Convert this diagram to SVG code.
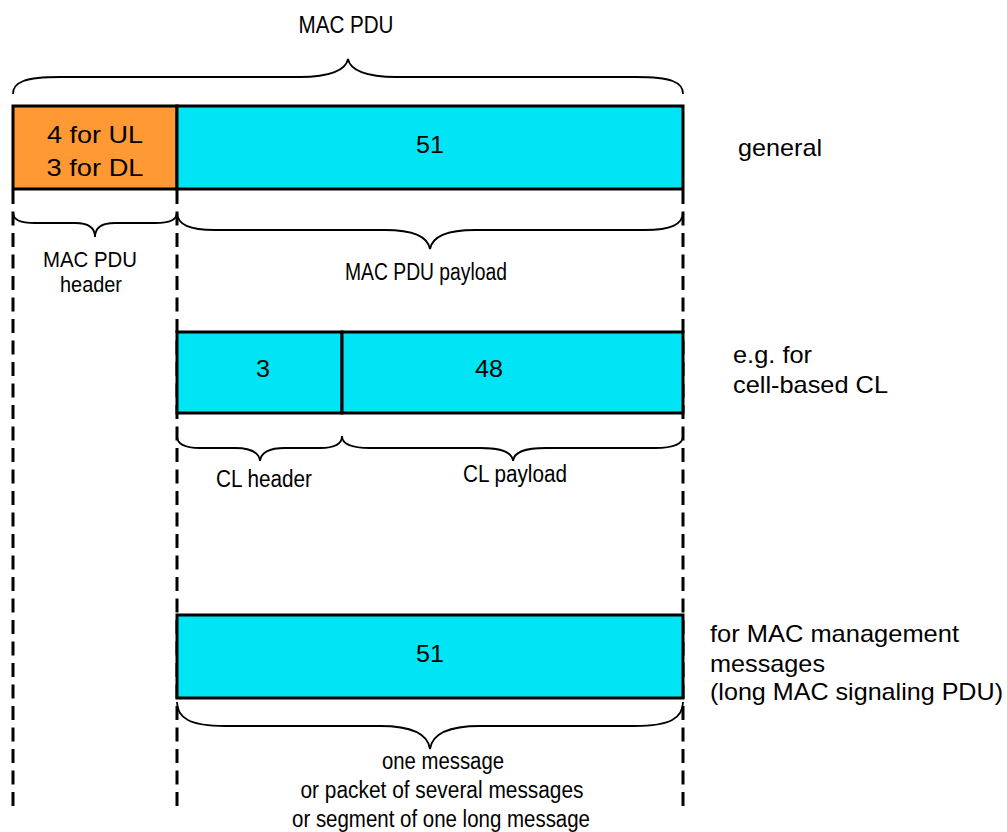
<svg xmlns="http://www.w3.org/2000/svg" width="1007" height="832" viewBox="0 0 1007 832">
<style>
.bg{fill:#ffffff}
.box{stroke:#000;stroke-width:3}
.hdr{fill:#FF9933}
.pl{fill:#00E5F5}
.dash{stroke:#000;stroke-width:3;stroke-dasharray:14 7.5;fill:none}
.brace{stroke:#000;stroke-width:1.8;fill:none}
.t{font-family:"Liberation Sans",Arial,sans-serif;font-size:24px;fill:#000}
.n{font-family:"Liberation Sans",Arial,sans-serif;font-size:23px;fill:#000}
.m{text-anchor:middle}
</style>
<rect class="bg" x="0" y="0" width="1007" height="832"/>
<g id="connectors">
<line class="dash" x1="13" y1="190" x2="13" y2="812"/>
<line class="dash" x1="177" y1="190" x2="177" y2="812"/>
<line class="dash" x1="683" y1="190" x2="683" y2="810"/>
<path id="brace-mac-pdu" class="brace" d="M13,94 C13,82 25,77 60,77 L300,77 C330,77 346,70 348,59 C350,70 366,77 396,77 L636,77 C671,77 683,82 683,94"/>
<path id="brace-header" class="brace" d="M13,212 C13,220 20,223 35,223 L75,223 C88,223 95,228 95,237 C95,228 102,223 115,223 L155,223 C170,223 177,220 177,212"/>
<path id="brace-payload" class="brace" d="M177,212 C177,225 190,230 215,230 L385,230 C415,230 428,238 430,249 C432,238 445,230 475,230 L645,230 C670,230 683,225 683,212"/>
<path id="brace-cl-header" class="brace" d="M177,436 C177,444 185,448 200,448 L235,448 C250,448 259,452 260,461 C261,452 270,448 285,448 L320,448 C335,448 342,444 342,436"/>
<path id="brace-cl-payload" class="brace" d="M342,436 C342,444 350,448 370,448 L480,448 C502,448 512,452 513,461 C514,452 524,448 546,448 L655,448 C675,448 683,444 683,436"/>
<path id="brace-message" class="brace" d="M177,702 C177,718 190,726 225,726 L380,726 C415,726 428,735 430,749 C432,735 445,726 480,726 L635,726 C670,726 683,718 683,702"/>
</g>
<g id="label-mac-pdu"><text class="n m" x="346" y="33" textLength="95" lengthAdjust="spacingAndGlyphs" style="font-size:24px">MAC PDU</text></g>
<g id="node-header">
<rect class="box hdr" x="13" y="106" width="164" height="83"/>
<text class="t m" x="95" y="143" textLength="96" lengthAdjust="spacingAndGlyphs">4 for UL</text>
<text class="t m" x="95" y="176" textLength="97" lengthAdjust="spacingAndGlyphs">3 for DL</text>
</g>
<g id="node-payload">
<rect class="box pl" x="177" y="106" width="506" height="83"/>
<text class="t m" x="430" y="153" textLength="28" lengthAdjust="spacingAndGlyphs">51</text>
</g>
<g id="label-general"><text class="t" x="738" y="156" textLength="84" lengthAdjust="spacingAndGlyphs">general</text></g>
<g id="label-header">
<text class="n m" x="90" y="267" textLength="94" lengthAdjust="spacingAndGlyphs" style="font-size:22px">MAC PDU</text>
<text class="n m" x="91" y="292" textLength="62" lengthAdjust="spacingAndGlyphs" style="font-size:22px">header</text>
</g>
<g id="label-payload"><text class="n m" x="426" y="280" textLength="162" lengthAdjust="spacingAndGlyphs">MAC PDU payload</text></g>
<g id="node-cl-header">
<rect class="box pl" x="177" y="332" width="165" height="81"/>
<text class="t m" x="263" y="377" textLength="14" lengthAdjust="spacingAndGlyphs">3</text>
</g>
<g id="node-cl-payload">
<rect class="box pl" x="342" y="332" width="341" height="81"/>
<text class="t m" x="489" y="377" textLength="28" lengthAdjust="spacingAndGlyphs">48</text>
</g>
<g id="label-cl">
<text class="t" x="733" y="363" textLength="79" lengthAdjust="spacingAndGlyphs">e.g. for</text>
<text class="t" x="733" y="393" textLength="155" lengthAdjust="spacingAndGlyphs">cell-based CL</text>
</g>
<g id="label-cl-header"><text class="n m" x="264" y="487" textLength="96" lengthAdjust="spacingAndGlyphs">CL header</text></g>
<g id="label-cl-payload"><text class="n m" x="515" y="482" textLength="104" lengthAdjust="spacingAndGlyphs">CL payload</text></g>
<g id="node-mgmt">
<rect class="box pl" x="177" y="615" width="506" height="83"/>
<text class="t m" x="430" y="662" textLength="28" lengthAdjust="spacingAndGlyphs">51</text>
</g>
<g id="label-mgmt">
<text class="t" x="710" y="642" textLength="249" lengthAdjust="spacingAndGlyphs">for MAC management</text>
<text class="t" x="710" y="672" textLength="115" lengthAdjust="spacingAndGlyphs">messages</text>
<text class="t" x="710" y="700" textLength="293" lengthAdjust="spacingAndGlyphs">(long MAC signaling PDU)</text>
</g>
<g id="label-message">
<text class="n m" x="443" y="769" textLength="122" lengthAdjust="spacingAndGlyphs">one message</text>
<text class="n m" x="442" y="798" textLength="283" lengthAdjust="spacingAndGlyphs">or packet of several messages</text>
<text class="n m" x="441" y="827" textLength="298" lengthAdjust="spacingAndGlyphs">or segment of one long message</text>
</g>
</svg>
